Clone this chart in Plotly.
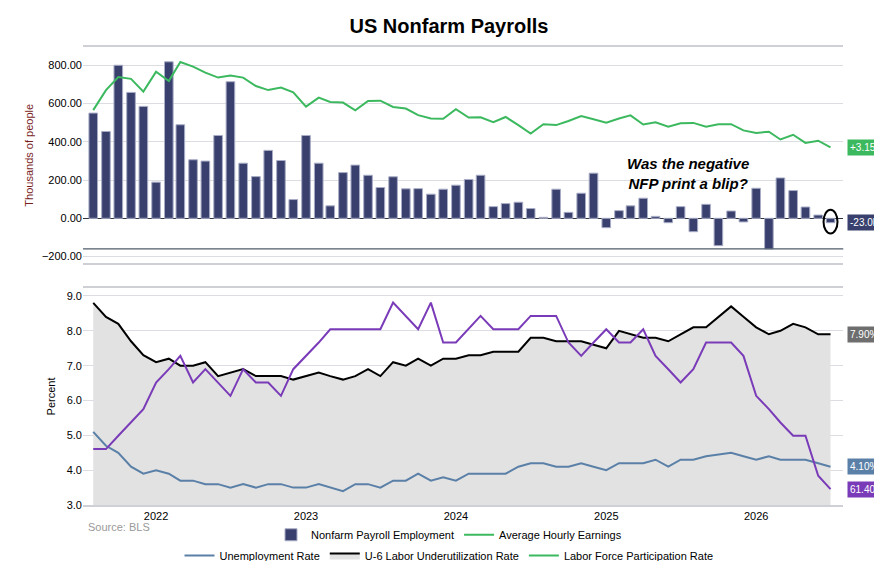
import pandas as pd
import plotly.graph_objects as go

months = pd.date_range("2021-08-01", "2026-07-01", freq="MS")

nfp = [550, 454, 800, 658, 585, 189, 818, 489, 306, 299, 433, 714, 288, 218, 355, 302,
       98, 433, 288, 65, 239, 278, 225, 161, 217, 154, 155, 126, 152, 173, 203, 225,
       61, 77, 84, 51, 5, 152, 31, 131, 236, -49, 40, 65, 105, 10, -23, 61, -70, 73,
       -143, 38, -19, 157, -160, 211, 145, 59, 17, -23]

ahe = [4.34, 4.98, 5.40, 5.34, 4.93, 5.57, 5.27, 5.88, 5.73, 5.54, 5.38, 5.45, 5.38, 5.11,
       4.98, 5.06, 4.91, 4.45, 4.74, 4.60, 4.58, 4.33, 4.63, 4.64, 4.44, 4.39, 4.18, 4.07,
       4.06, 4.37, 4.10, 4.11, 3.95, 4.12, 3.86, 3.59, 3.89, 3.86, 3.99, 4.15, 4.05, 3.94,
       4.07, 4.17, 3.88, 3.95, 3.81, 3.92, 3.93, 3.81, 3.89, 3.89, 3.69, 3.61, 3.65, 3.40,
       3.55, 3.29, 3.36, 3.15]

u6 = [8.8, 8.4, 8.2, 7.7, 7.3, 7.1, 7.2, 7.0, 7.0, 7.1, 6.7, 6.8, 6.9, 6.7, 6.7, 6.7,
      6.6, 6.7, 6.8, 6.7, 6.6, 6.7, 6.9, 6.7, 7.1, 7.0, 7.2, 7.0, 7.2, 7.2, 7.3, 7.3,
      7.4, 7.4, 7.4, 7.8, 7.8, 7.7, 7.7, 7.7, 7.6, 7.5, 8.0, 7.9, 7.8, 7.8, 7.7, 7.9,
      8.1, 8.1, 8.4, 8.7, 8.4, 8.1, 7.9, 8.0, 8.2, 8.1, 7.9, 7.9]

unrate = [5.1, 4.7, 4.5, 4.1, 3.9, 4.0, 3.9, 3.7, 3.7, 3.6, 3.6, 3.5, 3.6, 3.5, 3.6, 3.6,
          3.5, 3.5, 3.6, 3.5, 3.4, 3.6, 3.6, 3.5, 3.7, 3.7, 3.9, 3.7, 3.8, 3.7, 3.9, 3.9,
          3.9, 3.9, 4.1, 4.2, 4.2, 4.1, 4.1, 4.2, 4.1, 4.0, 4.2, 4.2, 4.2, 4.3, 4.1, 4.3,
          4.3, 4.4, 4.45, 4.5, 4.4, 4.3, 4.4, 4.3, 4.3, 4.3, 4.2, 4.1]

lfpr = [61.7, 61.7, 61.8, 61.9, 62.0, 62.2, 62.3, 62.4, 62.2, 62.3, 62.2, 62.1, 62.3, 62.2,
        62.2, 62.1, 62.3, 62.4, 62.5, 62.6, 62.6, 62.6, 62.6, 62.6, 62.8, 62.7, 62.6, 62.8,
        62.5, 62.5, 62.6, 62.7, 62.6, 62.6, 62.6, 62.7, 62.7, 62.7, 62.5, 62.4, 62.5, 62.6,
        62.5, 62.5, 62.6, 62.4, 62.3, 62.2, 62.3, 62.5, 62.5, 62.5, 62.4, 62.1, 62.0, 61.9,
        61.8, 61.8, 61.5, 61.4]

NAVY = "#39406e"
GREEN = "#3cb95f"
STEEL = "#5b80a8"
PURPLE = "#7a3bb8"
GRID = "#dcdde3"

fig = go.Figure()
fig.add_trace(go.Bar(x=months, y=nfp, name="Nonfarm Payroll Employment", marker_color=NAVY,
                     marker_line=dict(color="#a9adc6", width=1), xaxis="x", yaxis="y",
                     legend="legend", width=1000*3600*24*21))
fig.add_trace(go.Scatter(x=months, y=ahe, name="Average Hourly Earnings", mode="lines",
                         line=dict(color=GREEN, width=2), xaxis="x", yaxis="y2", legend="legend"))
fig.add_trace(go.Scatter(x=months, y=u6, name="U-6 Labor Underutilization Rate", mode="lines",
                         line=dict(color="black", width=2), fill="tozeroy", fillcolor="#e2e2e2",
                         xaxis="x2", yaxis="y3", legend="legend2", legendrank=2))
fig.add_trace(go.Scatter(x=months, y=unrate, name="Unemployment Rate", mode="lines",
                         line=dict(color=STEEL, width=2), xaxis="x2", yaxis="y3",
                         legend="legend2", legendrank=1))
fig.add_trace(go.Scatter(x=months, y=lfpr, name="Labor Force Participation Rate", mode="lines",
                         line=dict(color=PURPLE, width=2), xaxis="x2", yaxis="y4",
                         showlegend=False))
fig.add_trace(go.Scatter(x=[None], y=[None], name="Labor Force Participation Rate", mode="lines",
                         line=dict(color=GREEN, width=2), xaxis="x2", yaxis="y3",
                         legend="legend2", legendrank=3))

xr = ["2021-07-07", "2026-08-01"]
xcommon = dict(type="date", range=xr, showgrid=False, showline=True, mirror=True,
               linecolor="#cfd0d6", linewidth=1.5, ticks="", automargin=False)
fig.update_layout(
    width=882, height=561, margin=dict(l=0, r=0, t=0, b=0, autoexpand=False),
    paper_bgcolor="white", plot_bgcolor="white",
    font=dict(family="Liberation Sans, Arial", size=11, color="black"),
    title=dict(text="<b>US Nonfarm Payrolls</b>", x=0.5, xanchor="center", y=0.968,
               yanchor="middle", font=dict(size=20, color="black")),
    xaxis=dict(domain=[0.085, 0.947], anchor="y", showticklabels=False, **xcommon),
    yaxis=dict(domain=[0.545, 0.930], range=[-235, 894], tickvals=[-200, 0, 200, 400, 600, 800],
               tickformat=".2f", gridcolor=GRID, zeroline=True, zerolinecolor="#2d3440",
               zerolinewidth=1, automargin=False,
               title=dict(text="Thousands of people", font=dict(size=11, color="#7a1f1f"),
               standoff=6), ticks=""),
    yaxis2=dict(overlaying="y", side="right", range=[-0.56, 6.35], visible=False),
    xaxis2=dict(domain=[0.085, 0.947], anchor="y3", dtick="M12", tick0="2022-01-01",
                tickformat="%Y", tickfont=dict(size=11), **xcommon),
    yaxis3=dict(domain=[0.114, 0.501], anchor="x2", range=[3.0, 9.23], dtick=1, tickformat=".1f",
                gridcolor=GRID, zeroline=False, automargin=False,
                title=dict(text="Percent", font=dict(size=11), standoff=8), ticks=""),
    yaxis4=dict(overlaying="y3", anchor="x2", side="right", range=[61.28, 62.91], visible=False),
    legend=dict(orientation="h", x=0.5, xanchor="center", y=0.061, yanchor="middle",
                font=dict(size=11), bgcolor="rgba(0,0,0,0)"),
    legend2=dict(orientation="h", x=0.5, xanchor="center", y=0.024, yanchor="middle",
                 font=dict(size=11), bgcolor="rgba(0,0,0,0)", traceorder="normal"),
)

fig.add_shape(type="line", xref="x domain", yref="y", x0=0, x1=1, y0=-160, y1=-160,
              line=dict(color="#4f5d6b", width=1.2))
fig.add_shape(type="circle", xref="x", yref="y", x0="2026-06-14", x1="2026-07-18",
              y0=-80, y1=45, line=dict(color="black", width=2))

fig.add_annotation(xref="x", yref="y", x="2025-07-20", y=235, text="<b><i>Was the negative<br>NFP print a blip?</i></b>",
                   showarrow=False, font=dict(size=15, color="black"), align="center")

def tag(text, yref, y, color):
    fig.add_annotation(xref="paper", yref=yref, x=0.951, y=y, xanchor="left", text=text,
                       showarrow=False, bgcolor=color, font=dict(size=10, color="white"),
                       borderpad=2)

tag("+3.15%", "y2", ahe[-1], GREEN)
tag("-23.0k", "y", nfp[-1], NAVY)
tag("7.90%", "y3", u6[-1], "#6e6e6e")
tag("4.10%", "y3", unrate[-1], STEEL)
tag("61.40%", "y4", lfpr[-1], PURPLE)

fig.add_annotation(xref="paper", yref="paper", x=0.088, y=0.061, xanchor="left", text="Source: BLS",
                   showarrow=False, font=dict(size=11, color="#999999"))

fig.write_html("out.html")
